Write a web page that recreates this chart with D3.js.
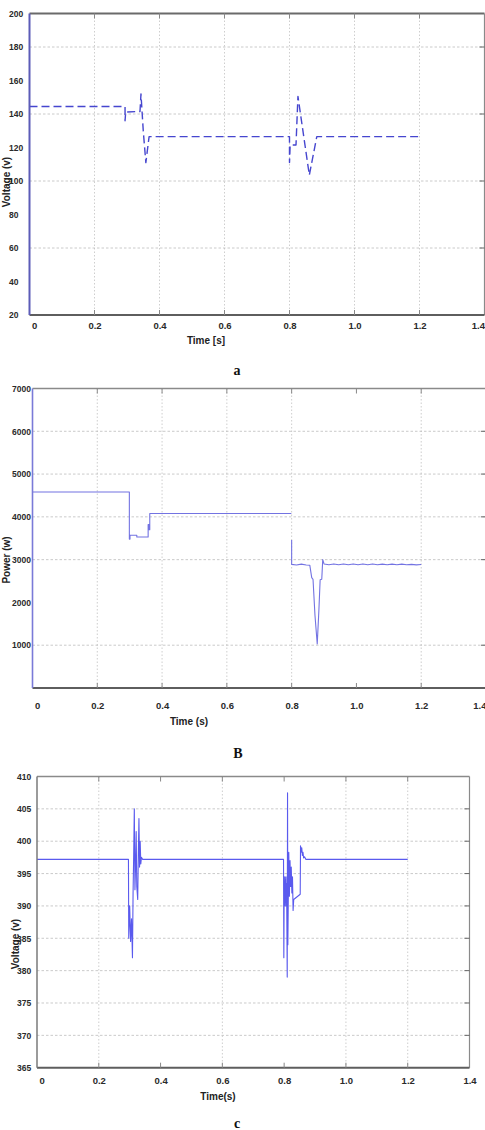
<!DOCTYPE html>
<html><head><meta charset="utf-8">
<script src="https://cdn.jsdelivr.net/npm/d3@7/dist/d3.min.js"></script>
<style>body{margin:0;background:#fff} svg{display:block}</style>
</head><body>
<svg id="chart" width="485" height="1130"></svg>
<script>
// ---------- shared axis data ----------
const timeTicks = [0, 0.2, 0.4, 0.6, 0.8, 1.0, 1.2, 1.4];
const timeTickLabels = ["0", "0.2", "0.4", "0.6", "0.8", "1.0", "1.2", "1.4"];

// ---------- panel a : voltage ----------
const aYTicks = [20, 40, 60, 80, 100, 120, 140, 160, 180, 200];
const aYGrid = [60, 100, 140, 180];
const aXGrid = [0.2, 0.4, 0.6, 0.8, 1.0, 1.2];
const aTime =    [0, 0.294, 0.294, 0.296, 0.340, 0.343, 0.350, 0.358, 0.368, 0.800, 0.800, 0.802, 0.820, 0.826, 0.861, 0.884, 1.2];
const aVoltage = [144.5, 144.5, 136, 141.2, 141.5, 152, 130, 111, 126.5, 126.5, 111, 121.5, 121.5, 150.5, 103.5, 126.5, 126.5];

// ---------- panel B : power ----------
const bYTicks = [1000, 2000, 3000, 4000, 5000, 6000, 7000];
const bYGrid = [1000, 3000, 4000, 5000, 6000];
const bXGrid = [0.2, 0.4, 0.6, 0.8, 1.2];
const bTime =  [0, 0.299, 0.299, 0.301, 0.301, 0.322, 0.322, 0.357, 0.357, 0.360, 0.360, 0.362, 0.362, 0.799,
                0.7995, 0.800, 0.800, 0.815, 0.830, 0.845, 0.856, 0.862, 0.866, 0.872, 0.879, 0.884, 0.888, 0.893, 0.896,
                0.900, 0.915, 0.930, 0.945, 0.960, 0.975, 0.990, 1.005, 1.020, 1.035, 1.050, 1.065, 1.080, 1.095,
                1.110, 1.125, 1.140, 1.155, 1.170, 1.185, 1.2];
const bPower = [4580, 4580, 3480, 3480, 3570, 3570, 3530, 3530, 3820, 3820, 3700, 3700, 4080, 4080,
                null, 3460, 2890, 2875, 2895, 2875, 2870, 2580, 2540, 1700, 1030, 1800, 2530, 2540, 3000,
                2900, 2880, 2900, 2880, 2900, 2880, 2900, 2880, 2900, 2880, 2900, 2880, 2895, 2880,
                2895, 2880, 2895, 2880, 2890, 2878, 2885];

// ---------- panel c : voltage ----------
const cYTicks = [365, 370, 375, 380, 385, 390, 395, 400, 405, 410];
const cYGrid = [370, 375, 380, 385, 390, 395, 400, 405];
const cXGrid = [0.2, 0.6, 1.0, 1.2];
const cTime = [0, 0.296, 0.297, 0.300, 0.303, 0.306, 0.309, 0.311, 0.313, 0.315, 0.317, 0.319, 0.321, 0.323,
               0.326, 0.328, 0.330, 0.332, 0.334, 0.336, 0.338, 0.342,
               0.798, 0.799, 0.800, 0.801, 0.802, 0.803, 0.804, 0.805, 0.806, 0.807, 0.808, 0.810, 0.811, 0.812,
               0.814, 0.815, 0.817, 0.819, 0.821, 0.823, 0.825, 0.827, 0.829, 0.831, 0.852, 0.853, 0.855, 0.857,
               0.859, 0.861, 0.863, 0.866, 0.870, 1.2];
const cVoltage = [397.2, 397.2, 385, 390, 384.5, 388, 382, 392, 398, 405, 392.5, 396, 401.5, 393,
                  391, 398, 403.5, 396, 400, 396.5, 397.5, 397.2,
                  397.2, 382, 392, 390, 394.5, 390.5, 394, 390, 394.5, 391, 393.5, 379, 407.5, 384,
                  394, 398.3, 391.5, 397, 393, 396, 392, 394.5, 389.3, 391, 391.8, 399.3, 398.3, 399,
                  397.8, 398.3, 397.4, 397.6, 397.2, 397.2];

const svg = d3.select("#chart");
const tickFont = "'Liberation Sans Narrow','Liberation Sans',Arial,sans-serif";

function drawPanel(p) {
  const g = svg.append("g");
  const x = d3.scaleLinear().domain([0, 1.4]).range([p.left, p.right]);
  const y = d3.scaleLinear().domain(p.yDomain).range([p.bottom, p.top]);

  // grid
  g.selectAll(".gx").data(p.xGrid).join("line")
    .attr("x1", d => x(d)).attr("x2", d => x(d)).attr("y1", p.top).attr("y2", p.bottom)
    .attr("stroke", "#c2c2c2").attr("stroke-width", 0.8).attr("stroke-dasharray", "1.5,2");
  g.selectAll(".gy").data(p.yGrid).join("line")
    .attr("x1", p.left).attr("x2", p.right).attr("y1", d => y(d)).attr("y2", d => y(d))
    .attr("stroke", "#bdbdbd").attr("stroke-width", 0.8).attr("stroke-dasharray", "2.5,2");

  // data line
  const pts = p.t.map((t, i) => [t, p.v[i]]);
  const line = d3.line().defined(d => d[1] !== null).x(d => x(d[0])).y(d => y(d[1]));
  g.append("path").datum(pts).attr("d", line).attr("fill", "none")
    .attr("stroke", p.lineColor).attr("stroke-width", p.lineWidth)
    .attr("stroke-dasharray", p.dash || null).attr("stroke-linejoin", "round");

  // frame
  g.append("line").attr("x1", p.left).attr("x2", p.right).attr("y1", p.top).attr("y2", p.top)
    .attr("stroke", p.topColor).attr("stroke-width", p.topWidth);
  g.append("line").attr("x1", p.right).attr("x2", p.right).attr("y1", p.top).attr("y2", p.bottom)
    .attr("stroke", "#8a8a8a").attr("stroke-width", 1.2);
  g.append("line").attr("x1", p.left).attr("x2", p.right).attr("y1", p.bottom).attr("y2", p.bottom)
    .attr("stroke", "#5e5e5e").attr("stroke-width", 2);
  g.append("line").attr("x1", p.left).attr("x2", p.left).attr("y1", p.top).attr("y2", p.bottom)
    .attr("stroke", p.leftColor).attr("stroke-width", p.leftWidth);

  // inner tick marks (top / bottom / right)
  g.selectAll(".tt").data(timeTicks.slice(1, -1)).join("line")
    .attr("x1", d => x(d)).attr("x2", d => x(d)).attr("y1", p.top).attr("y2", p.top + 5)
    .attr("stroke", "#888").attr("stroke-width", 1);
  g.selectAll(".tb").data(timeTicks.slice(1, -1)).join("line")
    .attr("x1", d => x(d)).attr("x2", d => x(d)).attr("y1", p.bottom).attr("y2", p.bottom - 5)
    .attr("stroke", "#888").attr("stroke-width", 1);
  g.selectAll(".tr").data(p.yGrid).join("line")
    .attr("x1", p.right).attr("x2", p.right - 5).attr("y1", d => y(d)).attr("y2", d => y(d))
    .attr("stroke", "#666").attr("stroke-width", 1);

  // x axis labels
  const xa = g.append("g").attr("transform", `translate(0,${p.bottom})`)
    .call(d3.axisBottom(x).tickValues(timeTicks).tickFormat((d, i) => timeTickLabels[i])
      .tickSize(0).tickPadding(p.xPad));
  xa.select(".domain").remove();
  xa.selectAll("text").attr("font-family", tickFont).attr("font-weight", "bold")
    .attr("font-size", 9.5).attr("fill", "#2a2a2a");
  xa.selectAll(".tick text").filter((d, i) => i === 0).attr("text-anchor", "start").attr("dx", 2);
  xa.selectAll(".tick text").filter((d, i) => i === timeTicks.length - 1 && p.right > 480)
    .attr("text-anchor", "end");

  // y axis labels
  const ya = g.append("g").attr("transform", `translate(${p.left},0)`)
    .call(d3.axisLeft(y).tickValues(p.yTicks).tickFormat(d3.format("d")).tickSize(0));
  ya.select(".domain").remove();
  ya.selectAll("text").attr("font-family", tickFont).attr("font-weight", "bold")
    .attr("font-size", 8.5).attr("fill", "#2a2a2a").attr("text-anchor", "start")
    .attr("x", p.yLabelX - p.left);

  // axis titles
  g.append("text").attr("x", p.xTitleX).attr("y", p.xTitleY).attr("text-anchor", "middle")
    .attr("font-family", tickFont).attr("font-weight", "bold").attr("font-size", 10)
    .attr("fill", "#222").text(p.xTitle);
  g.append("text").attr("transform", `translate(${p.yTitleX},${p.yTitleY}) rotate(-90)`)
    .attr("text-anchor", "middle").attr("dy", "0.35em")
    .attr("font-family", tickFont).attr("font-weight", "bold").attr("font-size", 10)
    .attr("fill", "#222").text(p.yTitle);

  // panel caption
  svg.append("text").attr("x", p.capX).attr("y", p.capY).attr("text-anchor", "middle")
    .attr("font-family", "'Liberation Serif','Times New Roman',serif").attr("font-weight", "bold")
    .attr("font-size", 14).attr("fill", "#111").text(p.caption);
}

drawPanel({
  left: 29.5, right: 484.5, top: 13.5, bottom: 315, yDomain: [20, 200],
  yTicks: aYTicks, yGrid: aYGrid, xGrid: aXGrid, t: aTime, v: aVoltage,
  lineColor: "#4646cf", lineWidth: 1.4, dash: "8,4",
  topColor: "#6a6a6a", topWidth: 2.2, leftColor: "#5c5cb8", leftWidth: 2,
  xPad: 7, yLabelX: 9, xTitle: "Time [s]", xTitleX: 206, xTitleY: 344,
  yTitle: "Voltage (v)", yTitleX: 6.5, yTitleY: 182, caption: "a", capX: 237, capY: 375
});

drawPanel({
  left: 32.5, right: 486, top: 388.5, bottom: 688, yDomain: [0, 7000],
  yTicks: bYTicks, yGrid: bYGrid, xGrid: bXGrid, t: bTime, v: bPower,
  lineColor: "#7373e2", lineWidth: 1.1, dash: null,
  topColor: "#8a8a8a", topWidth: 1.5, leftColor: "#7a7ad8", leftWidth: 1.6,
  xPad: 14, yLabelX: 12, xTitle: "Time (s)", xTitleX: 189, xTitleY: 725,
  yTitle: "Power (w)", yTitleX: 6.5, yTitleY: 560, caption: "B", capX: 238, capY: 758
});

drawPanel({
  left: 37, right: 469.5, top: 776.5, bottom: 1067.7, yDomain: [365, 410],
  yTicks: cYTicks, yGrid: cYGrid, xGrid: cXGrid, t: cTime, v: cVoltage,
  lineColor: "#5a5aee", lineWidth: 1.1, dash: null,
  topColor: "#8a8a8a", topWidth: 1.5, leftColor: "#7a7a7a", leftWidth: 1.5,
  xPad: 9.5, yLabelX: 17, xTitle: "Time(s)", xTitleX: 218, xTitleY: 1100,
  yTitle: "Voltage (v)", yTitleX: 15, yTitleY: 944, caption: "c", capX: 237, capY: 1128
});
</script>
</body></html>
